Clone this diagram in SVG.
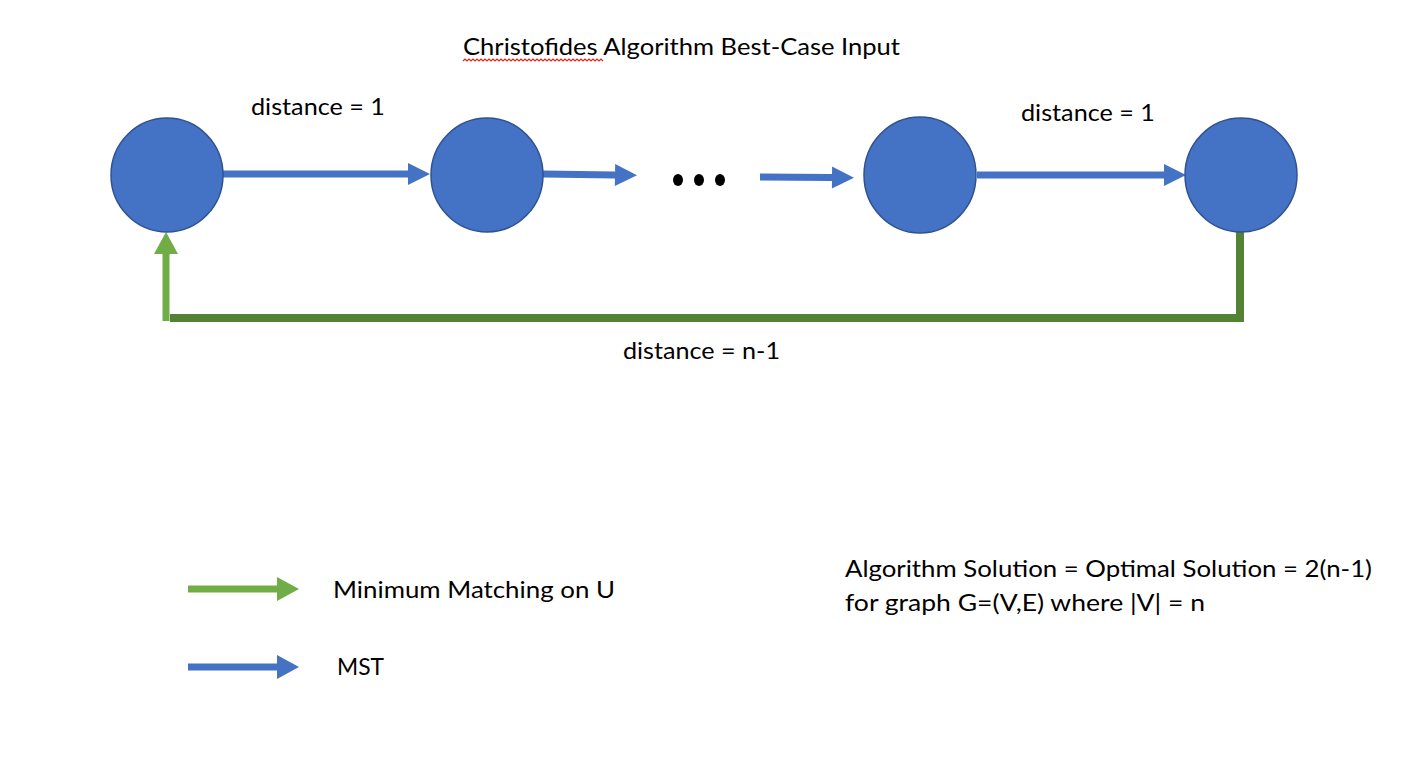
<svg xmlns="http://www.w3.org/2000/svg" width="1416" height="776" viewBox="0 0 1416 776">
<style>
text{font-family:Lato,"Open Sans","Liberation Sans",sans-serif;font-size:23px;fill:#000}
.node{fill:#4472C4;stroke:#2F528F;stroke-width:1.5}
.mst{stroke:#4472C4;stroke-width:7;fill:none}
.mm{stroke:#70AD47;stroke-width:7;fill:none}
.mmd{stroke:#548235;stroke-width:8;fill:none}
</style>
<defs>
<marker id="hb" markerUnits="userSpaceOnUse" markerWidth="22" markerHeight="22" viewBox="0 0 22 22" refX="0" refY="11" orient="auto" overflow="visible"><path d="M0,0 L22,11 L0,22 z" fill="#4472C4"/></marker>
<marker id="hg" markerUnits="userSpaceOnUse" markerWidth="22" markerHeight="24" viewBox="0 0 22 24" refX="0" refY="12" orient="auto" overflow="visible"><path d="M0,0 L22,12 L0,24 z" fill="#70AD47"/></marker>
<marker id="hbl" markerUnits="userSpaceOnUse" markerWidth="22" markerHeight="24" viewBox="0 0 22 24" refX="0" refY="12" orient="auto" overflow="visible"><path d="M0,0 L22,12 L0,24 z" fill="#4472C4"/></marker>
</defs>
<rect width="1416" height="776" fill="#fff"/>
<g id="title">
<text x="463" y="55" textLength="437" lengthAdjust="spacingAndGlyphs">Christofides Algorithm Best-Case Input</text>
<path d="M463,61 l2,-2 2,2 2,-2 2,2 2,-2 2,2 2,-2 2,2 2,-2 2,2 2,-2 2,2 2,-2 2,2 2,-2 2,2 2,-2 2,2 2,-2 2,2 2,-2 2,2 2,-2 2,2 2,-2 2,2 2,-2 2,2 2,-2 2,2 2,-2 2,2 2,-2 2,2 2,-2 2,2 2,-2 2,2 2,-2 2,2 2,-2 2,2 2,-2 2,2 2,-2 2,2 2,-2 2,2 2,-2 2,2 2,-2 2,2 2,-2 2,2 2,-2 2,2 2,-2 2,2 2,-2 2,2 2,-2 2,2 2,-2 2,2 2,-2 2,2 2,-2 2,2 2,-2 2,2" fill="none" stroke="#E0241B" stroke-width="1.2"/>
</g>
<g id="connectors">
<line class="mst" x1="223" y1="174" x2="408" y2="174" marker-end="url(#hb)"/>
<line class="mst" x1="543" y1="174" x2="615" y2="175" marker-end="url(#hb)"/>
<line class="mst" x1="760" y1="177" x2="832" y2="177.5" marker-end="url(#hb)"/>
<line class="mst" x1="977" y1="175" x2="1164" y2="175" marker-end="url(#hb)"/>
<path class="mmd" d="M1240,231 V318 H170"/>
<line class="mm" x1="166" y1="321" x2="166" y2="254" marker-end="url(#hg)"/>
</g>
<g id="node1"><ellipse class="node" cx="167" cy="175" rx="56" ry="57"/></g>
<g id="node2"><ellipse class="node" cx="487" cy="175" rx="56" ry="57"/></g>
<g id="node3"><ellipse class="node" cx="920" cy="175" rx="56" ry="58"/></g>
<g id="node4"><ellipse class="node" cx="1241" cy="175" rx="56" ry="57"/></g>
<g id="ellipsis">
<ellipse cx="678" cy="180" rx="5" ry="6" fill="#000"/>
<ellipse cx="699" cy="180" rx="5" ry="6" fill="#000"/>
<ellipse cx="720" cy="180" rx="5" ry="6" fill="#000"/>
</g>
<g id="labels">
<text x="251" y="115" textLength="134" lengthAdjust="spacingAndGlyphs">distance = 1</text>
<text x="1021" y="121" textLength="134" lengthAdjust="spacingAndGlyphs">distance = 1</text>
<text x="623" y="359" textLength="157" lengthAdjust="spacingAndGlyphs">distance = n-1</text>
</g>
<g id="legend">
<line class="mm" x1="188" y1="589" x2="277" y2="589" marker-end="url(#hg)"/>
<text x="333" y="598" textLength="282" lengthAdjust="spacingAndGlyphs">Minimum Matching on U</text>
<line class="mst" x1="188" y1="667" x2="277" y2="667" stroke-width="8" marker-end="url(#hbl)"/>
<text x="337" y="675" textLength="47" lengthAdjust="spacingAndGlyphs">MST</text>
</g>
<g id="note">
<text x="845" y="577" textLength="527" lengthAdjust="spacingAndGlyphs">Algorithm Solution = Optimal Solution = 2(n-1)</text>
<text x="845" y="611" textLength="360" lengthAdjust="spacingAndGlyphs">for graph G=(V,E) where |V| = n</text>
</g>
</svg>
